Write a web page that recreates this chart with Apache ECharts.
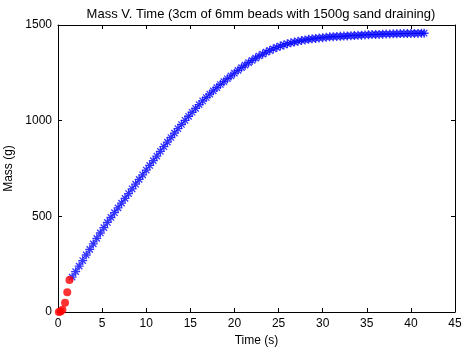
<!DOCTYPE html>
<html>
<head>
<meta charset="utf-8">
<script src="https://cdn.jsdelivr.net/npm/echarts@6/dist/echarts.min.js"></script>
<style>
  html, body { margin: 0; padding: 0; background: #fff; }
  #chart { width: 464px; height: 351px; }
</style>
</head>
<body>
<div id="chart"></div>
<script>
// early readings (red dots)
const startTime = [0.1, 0.3, 0.5, 0.8, 1.05, 1.3]
const startMass = [0, 3, 12, 48, 103, 167]

// main readings (blue asterisks)
const time = [
  1.6, 2.0, 2.4, 2.8, 3.2, 3.6, 4.0, 4.4, 4.8, 5.2,
  5.6, 6.0, 6.4, 6.8, 7.2, 7.6, 8.0, 8.4, 8.8, 9.2,
  9.6, 10.0, 10.4, 10.8, 11.2, 11.6, 12.0, 12.4, 12.8, 13.2,
  13.6, 14.0, 14.4, 14.8, 15.2, 15.6, 16.0, 16.4, 16.8, 17.2,
  17.6, 18.0, 18.4, 18.8, 19.2, 19.6, 20.0, 20.4, 20.8, 21.2,
  21.6, 22.0, 22.4, 22.8, 23.2, 23.6, 24.0, 24.4, 24.8, 25.2,
  25.6, 26.0, 26.4, 26.8, 27.2, 27.6, 28.0, 28.4, 28.8, 29.2,
  29.6, 30.0, 30.4, 30.8, 31.2, 31.6, 32.0, 32.4, 32.8, 33.2,
  33.6, 34.0, 34.4, 34.8, 35.2, 35.6, 36.0, 36.4, 36.8, 37.2,
  37.6, 38.0, 38.4, 38.8, 39.2, 39.6, 40.0, 40.4, 40.8, 41.2, 41.5
]
const mass = [
  182, 211, 240, 269, 298, 327, 356, 385, 413, 441,
  468, 494, 519, 544, 569, 594, 619, 644, 668, 693,
  717, 742, 766, 791, 815, 840, 864, 888, 912, 935,
  958, 980, 1002, 1023, 1044, 1064, 1084, 1103, 1121, 1139,
  1156, 1173, 1189, 1204, 1219, 1234, 1248, 1263, 1277, 1290,
  1303, 1315, 1327, 1338, 1348, 1358, 1367, 1375, 1383, 1390,
  1396, 1402, 1407, 1411, 1415, 1419, 1422, 1425, 1428, 1430,
  1432, 1434, 1436, 1438, 1439, 1440, 1441, 1442, 1443, 1444,
  1445, 1446, 1447, 1448, 1449, 1450, 1451, 1451, 1452, 1453,
  1453, 1454, 1454, 1455, 1455, 1455, 1456, 1456, 1456, 1457, 1457
]

const xTicks = [0, 45, 5]
const yTicks = [0, 1500, 500]

const chart = echarts.init(document.getElementById('chart'))
const font = 'Liberation Sans, Arial, sans-serif'
const asterisk = 'path://M0,-10L0,10M-10,0L10,0M-7,-7L7,7M-7,7L7,-7'

// axis style shared by main and mirror axes (matlab box)
function axisBase(mirror) {
  return {
    axisLine: { show: true, onZero: false, lineStyle: { color: '#000', width: 1 } },
    axisTick: { show: true, inside: true, length: 4, lineStyle: { color: '#000' } },
    axisLabel: {
      show: !mirror, color: '#000', fontFamily: font, fontSize: 12, margin: 6,
      formatter: v => String(v)
    },
    splitLine: { show: false }
  }
}

chart.setOption({
  animation: false,
  backgroundColor: '#fff',
  title: {
    text: 'Mass V. Time (3cm of 6mm beads with 1500g sand draining)',
    left: 256, top: 3, textAlign: 'center',
    textStyle: { fontFamily: font, fontSize: 13, fontWeight: 'normal', color: '#000' }
  },
  grid: { left: 58, right: 9, top: 25, bottom: 39, containLabel: false, outerBoundsMode: 'none' },
  xAxis: [
    Object.assign(axisBase(false), {
      type: 'value', min: xTicks[0], max: xTicks[1], interval: xTicks[2], position: 'bottom',
      name: 'Time (s)', nameLocation: 'middle', nameGap: 22,
      nameTextStyle: { fontFamily: font, fontSize: 12, color: '#000' }
    }),
    Object.assign(axisBase(true), {
      type: 'value', min: xTicks[0], max: xTicks[1], interval: xTicks[2], position: 'top'
    })
  ],
  yAxis: [
    Object.assign(axisBase(false), {
      type: 'value', min: yTicks[0], max: yTicks[1], interval: yTicks[2], position: 'left',
      name: 'Mass (g)', nameLocation: 'middle', nameGap: 36,
      nameTextStyle: { fontFamily: font, fontSize: 12, color: '#000' }
    }),
    Object.assign(axisBase(true), {
      type: 'value', min: yTicks[0], max: yTicks[1], interval: yTicks[2], position: 'right'
    })
  ],
  series: [
    {
      type: 'scatter',
      data: time.map((t, i) => [t, mass[i]]),
      symbol: asterisk,
      symbolSize: 9,
      itemStyle: { color: 'none', borderColor: '#0000ff', borderWidth: 1.3 }
    },
    {
      type: 'scatter',
      data: startTime.map((t, i) => [t, startMass[i]]),
      symbol: 'circle',
      symbolSize: 8,
      itemStyle: { color: '#ff0000' }
    }
  ]
})
</script>
</body>
</html>
